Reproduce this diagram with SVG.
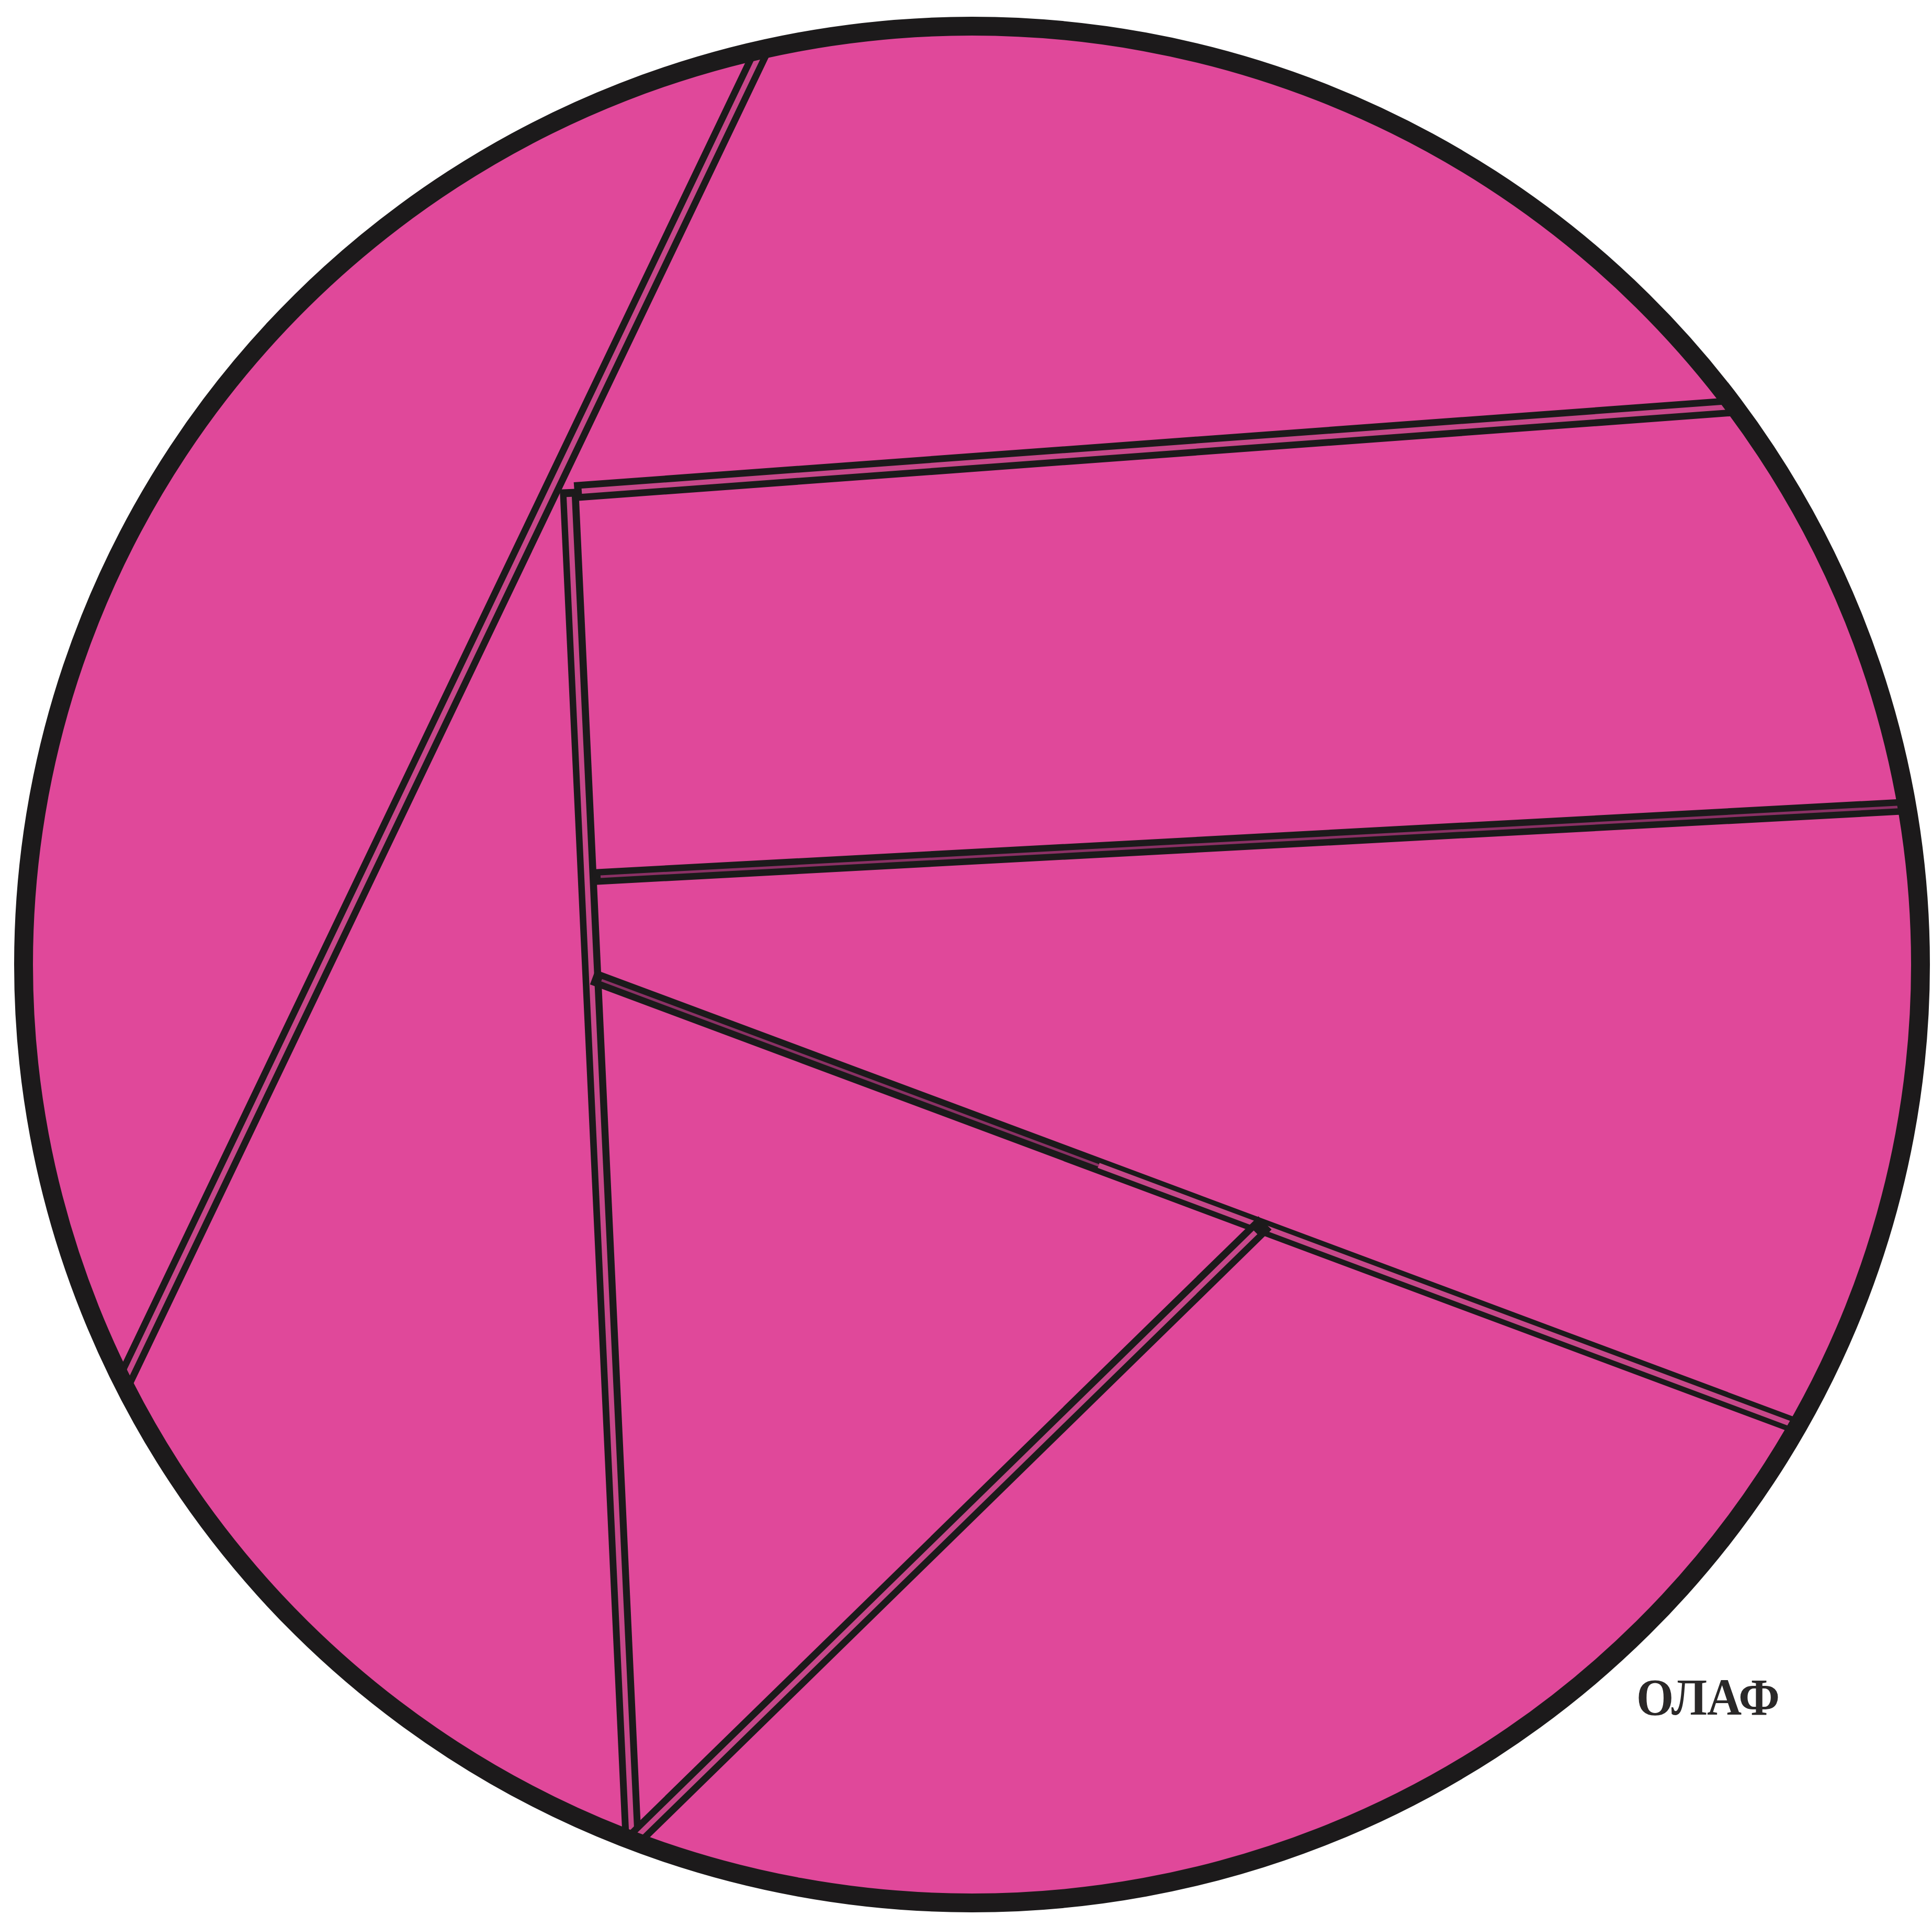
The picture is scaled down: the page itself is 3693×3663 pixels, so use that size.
<svg xmlns="http://www.w3.org/2000/svg" width="3693" height="3663" viewBox="0 0 3693 3663">
  <defs>
    <style>
      .disk { fill: #E0489A; }
      .rim { fill: none; stroke: #1c1a1b; stroke-width: 36; }
      .outer { fill: none; stroke: #1c1a1b; stroke-width: 36; stroke-linecap: butt; }
      .inner { fill: none; stroke: #C8478A; stroke-width: 10; stroke-linecap: butt; }
      .solid-outer { fill: none; stroke: #1c1a1b; stroke-width: 30; }
      .solid-inner { fill: none; stroke: #8a3064; stroke-width: 5; }
      .sig { font-family: "Liberation Serif", "Times New Roman", serif; font-weight: bold; font-size: 100px; fill: #2a2828; }
    </style>
    <clipPath id="inside">
      <ellipse cx="1858" cy="1844" rx="1800" ry="1781"/>
    </clipPath>
  </defs>
  <rect width="3693" height="3663" fill="#ffffff"/>
  <g id="disk">
    <ellipse class="disk" cx="1858" cy="1844" rx="1813" ry="1794"/>
  </g>
  <g id="lines" clip-path="url(#inside)">
    <g id="line1">
      <line class="outer" x1="1500" y1="4" x2="218" y2="2681"/>
      <line class="inner" x1="1500" y1="4" x2="218" y2="2681"/>
    </g>
    <g id="line3">
      <line class="outer" x1="1088" y1="935" x2="1210" y2="3560"/>
      <line class="inner" x1="1088" y1="950" x2="1210" y2="3560"/>
    </g>
    <g id="line2">
      <line class="outer" x1="1098" y1="940" x2="3400" y2="771"/>
      <line class="inner" x1="1112" y1="939" x2="3400" y2="771"/>
    </g>
    <g id="line4">
      <line class="solid-outer" x1="1133" y1="1677" x2="3700" y2="1539"/>
      <line class="solid-inner" x1="1148" y1="1676" x2="3700" y2="1539"/>
    </g>
    <g id="line5">
      <line class="solid-outer" x1="1133" y1="1868" x2="3500" y2="2751"/>
      <line class="solid-inner" x1="1150" y1="1874" x2="2100" y2="2228"/>
      <line class="inner" x1="2100" y1="2228" x2="3500" y2="2751"/>
    </g>
    <g id="line6">
      <line class="outer" x1="2418" y1="2338" x2="1180" y2="3548"/>
      <line class="inner" x1="2400" y1="2356" x2="1180" y2="3548"/>
    </g>
  </g>
  <g id="rim">
    <ellipse class="rim" cx="1858" cy="1844" rx="1813" ry="1794"/>
  </g>
  <text class="sig" x="3128" y="3278" textLength="274" lengthAdjust="spacingAndGlyphs">ОЛАФ</text>
</svg>
